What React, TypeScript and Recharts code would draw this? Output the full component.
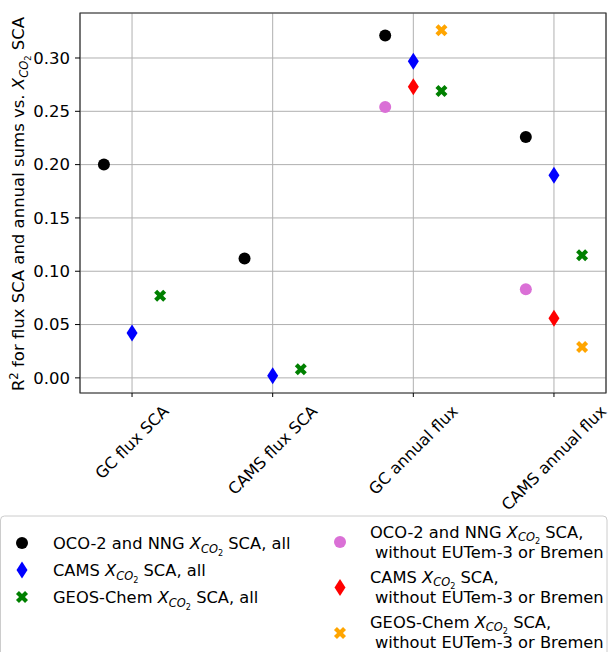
import React from "react"
import { ScatterChart, Scatter, XAxis, YAxis, CartesianGrid, ReferenceArea } from "recharts"

const categories = ["GC flux SCA", "CAMS flux SCA", "GC annual flux", "CAMS annual flux"]
const yTicks = [0, 0.05, 0.1, 0.15, 0.2, 0.25, 0.3]

// R² per category, all stations
const ocoAll = [0.2, 0.112, 0.321, 0.226]
const camsAll = [0.042, 0.002, 0.297, 0.19]
const geosAll = [0.077, 0.008, 0.269, 0.115]

// without EUTem-3 or Bremen (annual flux categories only)
const subsetIdx = [2, 3]
const ocoSub = [0.254, 0.083]
const camsSub = [0.273, 0.056]
const geosSub = [0.326, 0.029]

const FONT = "DejaVu Sans"
const FS = 16.5
const LEG_FS = 16.3
const GRID = "#b0b0b0"

type Kind = "circle" | "diamond" | "x"

function Marker({ kind, cx, cy, fill }: { kind: Kind; cx: number; cy: number; fill: string }) {
  if (kind === "circle") return <circle cx={cx} cy={cy} r={6} fill={fill} />
  if (kind === "diamond") {
    const pts = `${cx},${cy - 8.5} ${cx + 5.5},${cy} ${cx},${cy + 8.5} ${cx - 5.5},${cy}`
    return <polygon points={pts} fill={fill} />
  }
  // filled X: a plus rotated 45deg
  const w = 2.1
  const L = 6.4
  const plus = [
    [-w, -L], [w, -L], [w, -w], [L, -w], [L, w], [w, w],
    [w, L], [-w, L], [-w, w], [-L, w], [-L, -w], [-w, -w],
  ]
  const c = Math.SQRT1_2
  const pts = plus.map(([a, b]) => `${cx + (a - b) * c},${cy + (a + b) * c}`).join(" ")
  return <polygon points={pts} fill={fill} />
}

const series = [
  { name: "ocoAll", idx: [0, 1, 2, 3], vals: ocoAll, off: -0.2, kind: "circle" as Kind, color: "#000000" },
  { name: "camsAll", idx: [0, 1, 2, 3], vals: camsAll, off: 0, kind: "diamond" as Kind, color: "#0000ff" },
  { name: "geosAll", idx: [0, 1, 2, 3], vals: geosAll, off: 0.2, kind: "x" as Kind, color: "#008000" },
  { name: "ocoSub", idx: subsetIdx, vals: ocoSub, off: -0.2, kind: "circle" as Kind, color: "#da70d6" },
  { name: "camsSub", idx: subsetIdx, vals: camsSub, off: 0, kind: "diamond" as Kind, color: "#ff0000" },
  { name: "geosSub", idx: subsetIdx, vals: geosSub, off: 0.2, kind: "x" as Kind, color: "#ffa500" },
]

const allVals = [...ocoAll, ...camsAll, ...geosAll, ...ocoSub, ...camsSub, ...geosSub]
const yMin = Math.min(...allVals)
const yMax = Math.max(...allVals)
const yPad = (yMax - yMin) * 0.05
const yDomain = [yMin - yPad, yMax + yPad]
const xPad = 3.4 * 0.05
const xDomain = [-0.2 - xPad, 3.2 + xPad]

type Part = { t: string; it?: boolean; lvl?: number }
const LVL: Record<number, { dy: number; fs: number }> = {
  0: { dy: 0, fs: 1 },
  1: { dy: -6, fs: 0.7 },
  [-1]: { dy: 3.5, fs: 0.7 },
  [-2]: { dy: 6.5, fs: 0.5 },
}

function MathText({ parts, x, y, size = FS, transform, anchor }: { parts: Part[]; x: number; y: number; size?: number; transform?: string; anchor?: string }) {
  let cur = 0
  return (
    <text x={x} y={y} fontSize={size} fontFamily={FONT} fill="#000" transform={transform} textAnchor={anchor} style={{ whiteSpace: "pre" }}>
      {parts.map((p, i) => {
        const l = LVL[p.lvl ?? 0]
        const dy = l.dy - cur
        cur = l.dy
        return (
          <tspan key={i} dy={dy} fontSize={size * l.fs} fontStyle={p.it ? "italic" : undefined}>
            {p.t}
          </tspan>
        )
      })}
    </text>
  )
}

const xco2: Part[] = [{ t: "X", it: true }, { t: "CO", it: true, lvl: -1 }, { t: "2", lvl: -2 }]

const yLabel: Part[] = [{ t: "R" }, { t: "2", lvl: 1 }, { t: " for flux SCA and annual sums vs. " }, ...xco2, { t: " SCA" }]

const legendLeft: { kind: Kind; color: string; parts: Part[] }[] = [
  { kind: "circle", color: "#000000", parts: [{ t: "OCO-2 and NNG " }, ...xco2, { t: " SCA, all" }] },
  { kind: "diamond", color: "#0000ff", parts: [{ t: "CAMS " }, ...xco2, { t: " SCA, all" }] },
  { kind: "x", color: "#008000", parts: [{ t: "GEOS-Chem " }, ...xco2, { t: " SCA, all" }] },
]
const legendRight: { kind: Kind; color: string; parts: Part[] }[] = [
  { kind: "circle", color: "#da70d6", parts: [{ t: "OCO-2 and NNG " }, ...xco2, { t: " SCA," }] },
  { kind: "diamond", color: "#ff0000", parts: [{ t: "CAMS " }, ...xco2, { t: " SCA," }] },
  { kind: "x", color: "#ffa500", parts: [{ t: "GEOS-Chem " }, ...xco2, { t: " SCA," }] },
]
const subsetLine = "without EUTem-3 or Bremen"

const ctx = typeof document !== "undefined" ? document.createElement("canvas").getContext("2d") : null
function textWidth(s: string) {
  if (!ctx) return s.length * 9
  ctx.font = `16px "${FONT}"`
  return ctx.measureText(s).width
}

function XTick(props: any) {
  const { x, y, payload } = props
  const label = categories[payload.value]
  const L = textWidth(label)
  const cy = y + 3 + (L + 18) / (2 * Math.SQRT2)
  return (
    <text x={x} y={cy} textAnchor="middle" dominantBaseline="central" fontSize={16} fontFamily={FONT} fill="#000" transform={`rotate(-45 ${x} ${cy})`}>
      {label}
    </text>
  )
}

export default function App() {
  return (
    <div style={{ position: "absolute", left: 0, top: 0, width: 608, height: 652, background: "#fff" }}>
      <ScatterChart width={608} height={652} margin={{ top: 13, right: 2, left: 0, bottom: 0 }}>
        <CartesianGrid stroke={GRID} strokeWidth={1} />
        <XAxis
          type="number"
          dataKey="x"
          domain={xDomain}
          allowDataOverflow
          ticks={[0, 1, 2, 3]}
          tick={<XTick />}
          tickSize={4}
          tickLine={{ stroke: "#000" }}
          axisLine={false}
          height={259}
          interval={0}
        />
        <YAxis
          type="number"
          dataKey="y"
          domain={yDomain}
          allowDataOverflow
          ticks={yTicks}
          tickFormatter={(v: number) => v.toFixed(2)}
          tick={{ fontSize: FS, fontFamily: FONT, fill: "#000" }}
          tickSize={5}
          tickMargin={5}
          tickLine={{ stroke: "#000" }}
          axisLine={false}
          width={80}
          interval={0}
        />
        {series.map((s) => (
          <Scatter
            key={s.name}
            data={s.idx.map((i, k) => ({ x: i + s.off, y: s.vals[k] }))}
            isAnimationActive={false}
            shape={(p: any) => <Marker kind={s.kind} cx={p.cx} cy={p.cy} fill={s.color} />}
          />
        ))}
        <ReferenceArea x1={xDomain[0]} x2={xDomain[1]} y1={yDomain[0]} y2={yDomain[1]} fill="none" fillOpacity={0} stroke="#333" strokeWidth={1.2} strokeOpacity={1} />
      </ScatterChart>
      <svg width={608} height={652} style={{ position: "absolute", left: 0, top: 0, pointerEvents: "none" }}>
        <MathText parts={yLabel} x={24} y={204} anchor="middle" transform="rotate(-90 24 204)" />
        <rect x={0.5} y={516} width={606.5} height={150} rx={4} fill="#fff" fillOpacity={0.8} stroke="#cccccc" strokeWidth={1} />
        {legendLeft.map((e, i) => (
          <g key={`l${i}`}>
            <Marker kind={e.kind} cx={22} cy={543 + i * 27} fill={e.color} />
            <MathText parts={e.parts} x={53} y={549 + i * 27} size={LEG_FS} />
          </g>
        ))}
        {legendRight.map((e, i) => (
          <g key={`r${i}`}>
            <Marker kind={e.kind} cx={340} cy={542 + i * 45.5} fill={e.color} />
            <MathText parts={e.parts} x={370} y={537.5 + i * 45} size={LEG_FS} />
            <text x={375} y={557.5 + i * 45} fontSize={LEG_FS} fontFamily={FONT} fill="#000">
              {subsetLine}
            </text>
          </g>
        ))}
      </svg>
    </div>
  )
}
